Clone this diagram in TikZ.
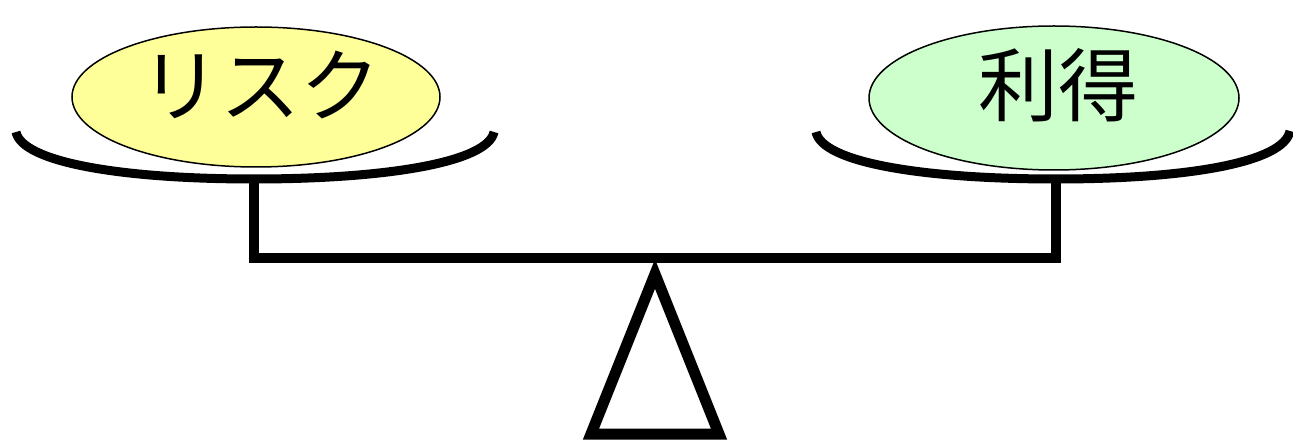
\documentclass[tikz,border=0pt]{standalone}
\usepackage{fontspec}
\newfontfamily\cjk{Noto Sans CJK JP}
\usetikzlibrary{shapes.geometric}
\definecolor{riskfill}{HTML}{FFFF99}
\definecolor{gainfill}{HTML}{CCFFCC}
\begin{document}
\begin{tikzpicture}[x=1pt,y=-1pt,
  plate/.style={draw=black,line width=1.5pt,ellipse,inner sep=0pt,minimum width=368pt,minimum height=140pt},
  label/.style={font=\cjk\fontsize{80pt}{80pt}\selectfont,anchor=base,inner sep=0pt},
  pan/.style={draw=black,line width=9pt},
  frame/.style={draw=black,line width=10pt,line join=miter}]
\useasboundingbox (0,0) rectangle (1293,443);
% plates
\node[plate,fill=riskfill] (riskplate) at (256,97) {};
\node[plate,fill=gainfill,minimum width=370pt,minimum height=144pt] (gainplate) at (1054,98) {};
\node[label] (risktext) at (260,116) {リスク};
\node[label] (gaintext) at (1058,116) {利得};
% pans
\coordinate (lpl) at (16,132);
\coordinate (lpm) at (254,179);
\coordinate (lpr) at (494,132);
\coordinate (rpl) at (816,132);
\coordinate (rpm) at (1056,179);
\coordinate (rpr) at (1290,131);
\draw[pan] (lpl) .. controls (22,162) and (120,179) .. (lpm) .. controls (388,179) and (488,162) .. (lpr);
\draw[pan] (rpl) .. controls (822,162) and (920,179) .. (rpm) .. controls (1190,179) and (1284,162) .. (rpr);
% beam
\coordinate (bl) at (254,258);
\coordinate (br) at (1056,258);
\draw[frame] (lpm) -- (bl) -- (br) -- (rpm);
% fulcrum
\coordinate (apex) at (655,274);
\coordinate (tl) at (591,434);
\coordinate (tr) at (719,434);
\draw[draw=black,line width=11pt,line join=miter] (apex) -- (tl) -- (tr) -- cycle;
\end{tikzpicture}
\end{document}
